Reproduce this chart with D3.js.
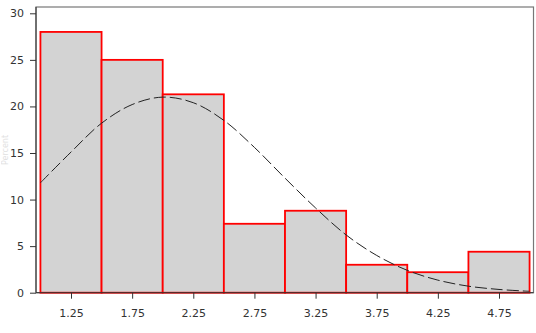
<!DOCTYPE html>
<html><head><meta charset="utf-8">
<script src="https://cdn.jsdelivr.net/npm/d3@7"></script>
<style>body{margin:0;background:#fff;}svg{display:block;}</style>
</head><body>
<svg id="c" width="536" height="333"></svg>
<script>
const binEdges = [1.0, 1.5, 2.0, 2.5, 3.0, 3.5, 4.0, 4.5, 5.0];
const percents = [28.0, 25.0, 21.3, 7.4, 8.8, 3.0, 2.2, 4.4];
const xTicks = [1.25, 1.75, 2.25, 2.75, 3.25, 3.75, 4.25, 4.75];
const yTicks = [0, 5, 10, 15, 20, 25, 30];
const curveX = [1.0, 1.25, 1.5, 1.75, 2.0, 2.25, 2.5, 2.75, 3.0, 3.25, 3.5, 3.75, 4.0, 4.25, 4.5, 4.75, 5.0];
const curveY = [11.8, 15.1, 18.2, 20.2, 21.0, 20.4, 18.5, 15.6, 12.3, 9.1, 6.2, 4.0, 2.4, 1.35, 0.7, 0.35, 0.15];

const svg = d3.select("#c");
const mLeft = 36, mTop = 7, mRight = 533.5, mBottom = 292.7;
const x = d3.scaleLinear().domain([1.25, 4.75]).range([71, 499]);
const y = d3.scaleLinear().domain([0, 30]).range([mBottom, 13.3]);

// frame
svg.append("rect").attr("x", mLeft).attr("y", mTop).attr("width", mRight - mLeft).attr("height", mBottom - mTop)
  .attr("fill", "#fff").attr("stroke", "#777").attr("stroke-width", 1.2);

// bars
const bins = percents.map((p, i) => ({x0: binEdges[i], x1: binEdges[i + 1], v: p}));
svg.append("g").selectAll("rect").data(bins).join("rect")
  .attr("x", d => x(d.x0)).attr("width", d => x(d.x1) - x(d.x0))
  .attr("y", d => y(d.v)).attr("height", d => y(0) - y(d.v))
  .attr("fill", "#d3d3d3").attr("stroke", "#f00").attr("stroke-width", 1.8);

// curve
const pts = curveX.map((v, i) => [v, curveY[i]]);
svg.append("path").datum(pts)
  .attr("d", d3.line().x(d => x(d[0])).y(d => y(d[1])).curve(d3.curveCatmullRom))
  .attr("fill", "none").attr("stroke", "#222").attr("stroke-width", 1)
  .attr("stroke-dasharray", "12,4");

// axes
const ax = svg.append("g").attr("transform", `translate(0,${mBottom})`)
  .call(d3.axisBottom(x).tickValues(xTicks).tickFormat(d3.format(".2f")).tickSizeOuter(0).tickSize(6).tickPadding(11));
ax.select(".domain").attr("d", `M${mLeft},0H${mRight}`).attr("stroke", "#333");
const ay = svg.append("g").attr("transform", `translate(${mLeft},0)`)
  .call(d3.axisLeft(y).tickValues(yTicks).tickSizeOuter(0).tickSize(6).tickPadding(6));
ay.select(".domain").attr("d", `M0,${mTop}V${mBottom}`).attr("stroke", "#333");
svg.selectAll(".tick line").attr("stroke", "#333");
svg.selectAll(".tick text").attr("font-family", "DejaVu Sans, sans-serif").attr("font-size", 11).attr("fill", "#333");

// faint y label
svg.append("text").attr("transform", "translate(8,150) rotate(-90)").attr("text-anchor", "middle")
  .attr("font-family", "DejaVu Sans, sans-serif").attr("font-size", 8).attr("fill", "#ccc").attr("opacity", 0.6).text("Percent");
</script>
</body></html>
